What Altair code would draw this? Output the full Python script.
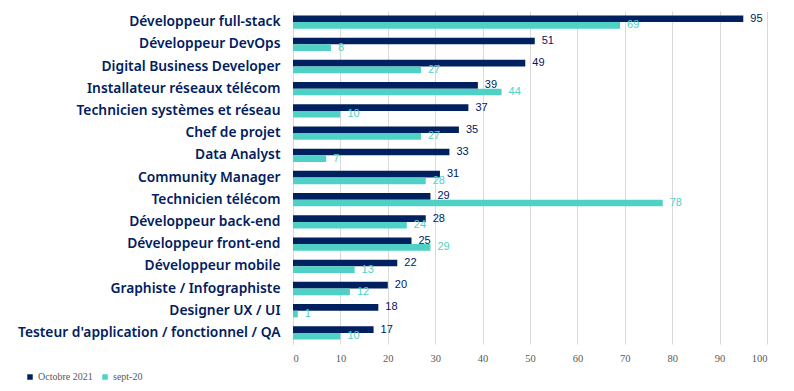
import altair as alt
import pandas as pd

categories = ["Développeur full-stack", "Développeur DevOps", "Digital Business Developer",
              "Installateur réseaux télécom", "Technicien systèmes et réseau", "Chef de projet",
              "Data Analyst", "Community Manager", "Technicien télécom", "Développeur back-end",
              "Développeur front-end", "Développeur mobile", "Graphiste / Infographiste",
              "Designer UX / UI", "Testeur d'application / fonctionnel / QA"]
octobre_2021 = [95, 51, 49, 39, 37, 35, 33, 31, 29, 28, 25, 22, 20, 18, 17]
sept_20 = [69, 8, 27, 44, 10, 27, 7, 28, 78, 24, 29, 13, 12, 1, 10]
series = ["Octobre 2021", "sept-20"]
x_ticks = [0, 10, 20, 30, 40, 50, 60, 70, 80, 90, 100]

NAVY = "#00205F"
TEAL = "#4FD1C5"

rows = []
for c, a, b in zip(categories, octobre_2021, sept_20):
    rows.append({"cat": c, "series": series[0], "value": a})
    rows.append({"cat": c, "series": series[1], "value": b})
df = pd.DataFrame(rows)

y_enc = alt.Y("cat:N", sort=categories,
              scale=alt.Scale(paddingInner=0.4, paddingOuter=0.2),
              axis=alt.Axis(title=None, ticks=False, domain=True, domainColor="#D9D9D9",
                            labelFont="Noto Sans", labelFontWeight=600, labelFontSize=13.8,
                            labelColor=NAVY, labelPadding=13, labelLimit=300))
yoff = alt.YOffset("series:N", sort=series, scale=alt.Scale(domain=series, paddingInner=0, paddingOuter=0))
x_enc = alt.X("value:Q", scale=alt.Scale(domain=[0, 100], nice=False),
              axis=alt.Axis(title=None, values=x_ticks, ticks=False, domain=False,
                            grid=True, gridColor="#D9D9D9", gridWidth=1,
                            labelFont="Liberation Sans Narrow", labelFontSize=10.5,
                            labelColor="#595959", labelPadding=9))
color = alt.Color("series:N", sort=series,
                  scale=alt.Scale(domain=series, range=[NAVY, TEAL]),
                  legend=alt.Legend(title=None, orient="none", legendX=-268, legendY=361,
                                    direction="horizontal", symbolType="square", symbolSize=30,
                                    symbolStrokeWidth=0, labelFont="Liberation Sans Narrow",
                                    labelFontSize=10, labelColor="#595959", labelOffset=3,
                                    columnPadding=7, padding=0))

bars = alt.Chart(df).mark_bar().encode(y=y_enc, yOffset=yoff, x=x_enc, color=color)
labels = alt.Chart(df).mark_text(align="left", baseline="middle", dx=7,
                                 font="Liberation Sans", fontSize=11).encode(
    y=alt.Y("cat:N", sort=categories), yOffset=yoff, x="value:Q",
    text="value:Q",
    color=alt.Color("series:N", sort=series, scale=alt.Scale(domain=series, range=[NAVY, TEAL]), legend=None))

chart = alt.layer(bars, labels).properties(
    width=474, height=333,
    autosize=alt.AutoSizeParams(type="none"),
    padding={"left": 285, "top": 3, "right": 19, "bottom": 39},
).configure_view(stroke=None)

chart.save("out.html", embed_options={"renderer": "svg", "actions": False})
